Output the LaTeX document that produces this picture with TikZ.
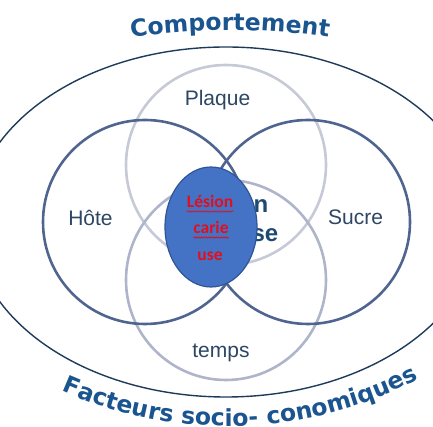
\documentclass[tikz,border=0pt]{standalone}
\usepackage{fontspec}
\setmainfont{Liberation Sans}
\newfontfamily\titlefont{DejaVu Sans}
\newfontfamily\calfont{Carlito}
\usetikzlibrary{decorations.text,decorations.pathmorphing}
\definecolor{titleblue}{HTML}{1A5590}
\definecolor{outerline}{HTML}{1E3A5A}
\definecolor{darkring}{HTML}{4F6590}
\definecolor{plaquering}{HTML}{C6C9D6}
\definecolor{tempsring}{HTML}{AEB4CA}
\definecolor{labelcol}{HTML}{2D4664}
\definecolor{hiddencol}{HTML}{1F4A70}
\definecolor{lesionfill}{HTML}{4472C4}
\definecolor{lesionline}{HTML}{2F5597}
\definecolor{lesionred}{HTML}{E0101E}
\begin{document}
\begin{tikzpicture}[x=1pt,y=1pt,
  ring/.style={line width=2.6pt},
  lab/.style={text=labelcol, font=\fontsize{21}{25}\selectfont, inner sep=0pt, anchor=base},
  hid/.style={text=hiddencol, font=\bfseries\fontsize{24}{28}\selectfont, inner sep=0pt, anchor=base},
  redtxt/.style={text=lesionred, font=\calfont\bfseries\fontsize{17.5}{21}\selectfont, inner sep=0pt, anchor=base},
  squiggle/.style={draw=lesionred, line width=0.6pt, decorate, decoration={snake, amplitude=0.7pt, segment length=2.5pt}},
  arctext/.style={decorate, decoration={text along path, text color=titleblue, text={|\titlefont\bfseries\fontsize{23.5}{28}\selectfont|#1}}}
]
\clip (0,0) rectangle (433,427);
% outer ellipse
\draw[outerline, line width=1.4pt] (226,205) ellipse [x radius=254, y radius=175];
% light circles
\draw[ring, plaquering] (226,262) circle [radius=100];
\draw[ring, tempsring] (226,147) circle [radius=100];
% dark circles
\draw[ring, darkring] (145,205) circle [radius=102];
\draw[ring, darkring] (308,205) circle [radius=102];
% labels
\node[lab] (plaque) at (217.5,321) {Plaque};
\node[lab] (hote) at (90.5,201) {Hôte};
\node[lab] (sucre) at (355.5,202) {Sucre};
\node[lab] (temps) at (221,69) {temps};
% hidden text behind lesion
\node[hid] (hid1) at (229.5,214) {Lésion};
\node[hid] (hid2) at (229.5,185) {carieuse};
% lesion
\draw[fill=lesionfill, draw=lesionline, line width=1.2pt] (211,200) ellipse [x radius=46, y radius=60];
\node[redtxt] (les1) at (210,219) {Lésion};
\node[redtxt] (les2) at (211,193) {carie};
\node[redtxt] (les3) at (210,166) {use};
\draw[squiggle] ([yshift=-3.5pt]les1.base west) -- ([yshift=-3.5pt]les1.base east);
\draw[squiggle] ([yshift=-3.5pt]les2.base west) -- ([yshift=-3.5pt]les2.base east);
% curved titles
\path[arctext={Comportement}, decoration={text align=center}] (117.1,387.1) arc [start angle=100, end angle=80, radius=650];
\path[arctext={Facteurs socio-}] (61.9,36.1) arc [start angle=246.1, end angle=285, radius=410];
\path[arctext={conomiques}] (267.3,2.9) arc [start angle=275.5, end angle=310, radius=410];
\end{tikzpicture}
\end{document}
